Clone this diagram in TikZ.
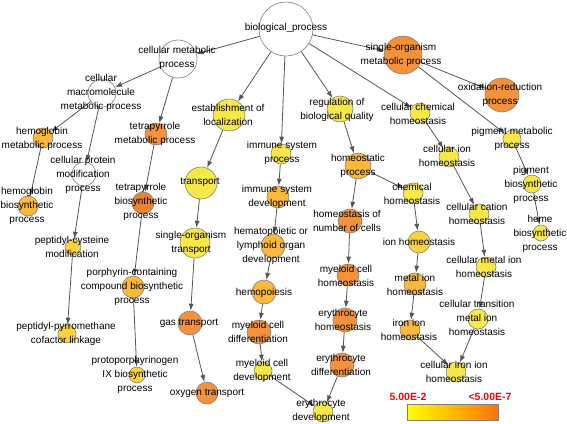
\documentclass[tikz,border=0pt]{standalone}
\usepackage{fontspec}
\setmainfont{Liberation Sans}
\usetikzlibrary{arrows.meta}
\definecolor{yel}{HTML}{F7E84A}
\definecolor{yelor}{HTML}{FAD43C}
\definecolor{ltor}{HTML}{FAB83C}
\definecolor{orng}{HTML}{F3923A}
\definecolor{dkor}{HTML}{EE8232}
\definecolor{edgegray}{HTML}{555555}
\begin{document}
\begin{tikzpicture}[x=1pt, y=-1pt,
        go/.style={circle, draw=gray, line width=0.6pt, inner sep=0pt},
        link/.style={draw=edgegray, line width=0.8pt, -{Latex[length=7pt, width=5pt]}},
        txt/.style={align=center, inner sep=0pt, font=\fontsize{10}{14}\selectfont}]
        \useasboundingbox (0, 0) rectangle (567, 423);

        \node[go, fill=white, minimum size=54pt] (0) at (286, 29) {};
        \node[go, fill=white, minimum size=38pt] (1) at (178, 59) {};
        \node[go, fill=orng, minimum size=38pt] (2) at (403, 55) {};
        \node[go, fill=orng, minimum size=34pt] (3) at (502, 95) {};
        \node[go, fill=white, minimum size=28pt] (4) at (102, 93) {};
        \node[go, fill=ltor, minimum size=20pt] (5) at (43, 138) {};
        \node[go, fill=orng, minimum size=22pt] (6) at (156, 134) {};
        \node[go, fill=yel, minimum size=32pt] (7) at (229, 115) {};
        \node[go, fill=yel, minimum size=26pt] (8) at (340, 109) {};
        \node[go, fill=yel, minimum size=20pt] (9) at (420, 113) {};
        \node[go, fill=yel, minimum size=18pt] (10) at (512, 139) {};
        \node[go, fill=yel, minimum size=20pt] (11) at (281, 154) {};
        \node[go, fill=yel, minimum size=32pt] (12) at (201, 183) {};
        \node[go, fill=ltor, minimum size=26pt] (13) at (358, 166) {};
        \node[go, fill=yel, minimum size=20pt] (14) at (449, 157) {};
        \node[go, fill=white, minimum size=24pt] (15) at (84, 174) {};
        \node[go, fill=ltor, minimum size=20pt] (16) at (28, 206) {};
        \node[go, fill=dkor, minimum size=22pt] (17) at (143, 203) {};
        \node[go, fill=yel, minimum size=30pt] (18) at (195, 243) {};
        \node[go, fill=ltor, minimum size=22pt] (19) at (278, 197) {};
        \node[go, fill=ltor, minimum size=24pt] (20) at (273, 246) {};
        \node[go, fill=orng, minimum size=24pt] (21) at (350, 221) {};
        \node[go, fill=yel, minimum size=20pt] (22) at (413, 193) {};
        \node[go, fill=yel, minimum size=20pt] (23) at (479, 214) {};
        \node[go, fill=yel, minimum size=18pt] (24) at (532, 184) {};
        \node[go, fill=yel, minimum size=16pt] (25) at (541, 233) {};
        \node[go, fill=yelor, minimum size=22pt] (26) at (419, 242) {};
        \node[go, fill=yelor, minimum size=16pt] (27) at (73, 247) {};
        \node[go, fill=orng, minimum size=22pt] (28) at (348, 275) {};
        \node[go, fill=yel, minimum size=20pt] (29) at (486, 267) {};
        \node[go, fill=ltor, minimum size=22pt] (30) at (415, 284) {};
        \node[go, fill=ltor, minimum size=22pt] (31) at (133, 287) {};
        \node[go, fill=ltor, minimum size=24pt] (32) at (264, 292) {};
        \node[go, fill=orng, minimum size=24pt] (33) at (190, 323) {};
        \node[go, fill=orng, minimum size=24pt] (34) at (345, 320) {};
        \node[go, fill=orng, minimum size=24pt] (35) at (259, 332) {};
        \node[go, fill=yel, minimum size=20pt] (36) at (478, 319) {};
        \node[go, fill=ltor, minimum size=20pt] (37) at (410, 330) {};
        \node[go, fill=yelor, minimum size=18pt] (38) at (67, 334) {};
        \node[go, fill=yelor, minimum size=16pt] (39) at (137, 375) {};
        \node[go, fill=yel, minimum size=18pt] (40) at (263, 371) {};
        \node[go, fill=orng, minimum size=24pt] (41) at (342, 365) {};
        \node[go, fill=orng, minimum size=22pt] (42) at (207, 393) {};
        \node[go, fill=yel, minimum size=20pt] (43) at (323, 412) {};
        \node[go, fill=yel, minimum size=20pt] (44) at (456, 372) {};

        \draw[link] (0) -- (1);
        \draw[link] (0) -- (2);
        \draw[link] (0) -- (7);
        \draw[link] (0) -- (11);
        \draw[link] (0) -- (8);
        \draw[link] (0) -- (9);
        \draw[link] (2) -- (3);
        \draw[link] (2) -- (10);
        \draw[link] (1) -- (4);
        \draw[link] (1) -- (6);
        \draw[link] (4) -- (5);
        \draw[link] (4) -- (15);
        \draw[link] (5) -- (16);
        \draw[link] (6) -- (17);
        \draw[link] (17) -- (31);
        \draw[link] (31) -- (39);
        \draw[link] (15) -- (27);
        \draw[link] (27) -- (38);
        \draw[link] (7) -- (12);
        \draw[link] (12) -- (18);
        \draw[link] (18) -- (33);
        \draw[link] (33) -- (42);
        \draw[link] (11) -- (19);
        \draw[link] (19) -- (20);
        \draw[link] (20) -- (32);
        \draw[link] (32) -- (35);
        \draw[link] (35) -- (40);
        \draw[link] (40) -- (43);
        \draw[link] (8) -- (13);
        \draw[link] (13) -- (21);
        \draw[link] (13) -- (22);
        \draw[link] (21) -- (28);
        \draw[link] (28) -- (34);
        \draw[link] (34) -- (41);
        \draw[link] (41) -- (43);
        \draw[link] (22) -- (26);
        \draw[link] (26) -- (30);
        \draw[link] (30) -- (37);
        \draw[link] (37) -- (44);
        \draw[link] (9) -- (14);
        \draw[link] (14) -- (23);
        \draw[link] (23) -- (29);
        \draw[link] (29) -- (36);
        \draw[link] (36) -- (44);
        \draw[link] (10) -- (24);
        \draw[link] (24) -- (25);

        \node[txt] (l0) at (286, 28) {biological\_process};
        \node[txt] (l1) at (177, 58) {cellular metabolic\\process};
        \node[txt] (l2) at (401, 55) {single-organism\\metabolic process};
        \node[txt] (l3) at (500, 95) {oxidation-reduction\\process};
        \node[txt] (l4) at (101, 93) {cellular\\macromolecule\\metabolic process};
        \node[txt] (l5) at (42, 139) {hemoglobin\\metabolic process};
        \node[txt] (l6) at (155, 134) {tetrapyrrole\\metabolic process};
        \node[txt] (l7) at (228, 115) {establishment of\\localization};
        \node[txt] (l8) at (337, 110) {regulation of\\biological quality};
        \node[txt] (l9) at (418, 114) {cellular chemical\\homeostasis};
        \node[txt] (l10) at (512, 139) {pigment metabolic\\process};
        \node[txt] (l11) at (282, 153) {immune system\\process};
        \node[txt] (l12) at (200, 182) {transport};
        \node[txt] (l13) at (358, 166) {homeostatic\\process};
        \node[txt] (l14) at (447, 156) {cellular ion\\homeostasis};
        \node[txt] (l15) at (83, 175) {cellular protein\\modification\\process};
        \node[txt] (l16) at (27, 206) {hemoglobin\\biosynthetic\\process};
        \node[txt] (l17) at (141, 202) {tetrapyrrole\\biosynthetic\\process};
        \node[txt] (l18) at (191, 243) {single-organism\\transport};
        \node[txt] (l19) at (277, 197) {immune system\\development};
        \node[txt] (l20) at (271, 246) {hematopoietic or\\lymphoid organ\\development};
        \node[txt] (l21) at (347, 221) {homeostasis of\\number of cells};
        \node[txt] (l22) at (412, 194) {chemical\\homeostasis};
        \node[txt] (l23) at (477, 214) {cellular cation\\homeostasis};
        \node[txt] (l24) at (531, 185) {pigment\\biosynthetic\\process};
        \node[txt] (l25) at (540, 234) {heme\\biosynthetic\\process};
        \node[txt] (l26) at (419, 242) {ion homeostasis};
        \node[txt] (l27) at (72, 247) {peptidyl-cysteine\\modification};
        \node[txt] (l28) at (346, 276) {myeloid cell\\homeostasis};
        \node[txt] (l29) at (484, 267) {cellular metal ion\\homeostasis};
        \node[txt] (l30) at (415, 285) {metal ion\\homeostasis};
        \node[txt] (l31) at (132, 287) {porphyrin-containing\\compound biosynthetic\\process};
        \node[txt] (l32) at (264, 293) {hemopoiesis};
        \node[txt] (l33) at (189, 323) {gas transport};
        \node[txt] (l34) at (343, 320) {erythrocyte\\homeostasis};
        \node[txt] (l35) at (258, 332) {myeloid cell\\differentiation};
        \node[txt] (l36) at (477, 318) {cellular transition\\metal ion\\homeostasis};
        \node[txt] (l37) at (409, 330) {iron ion\\homeostasis};
        \node[txt] (l38) at (66, 334) {peptidyl-pyrromethane\\cofactor linkage};
        \node[txt] (l39) at (135, 375) {protoporphyrinogen\\IX biosynthetic\\process};
        \node[txt] (l40) at (262, 371) {myeloid cell\\development};
        \node[txt] (l41) at (341, 365) {erythrocyte\\differentiation};
        \node[txt] (l42) at (207, 393) {oxygen transport};
        \node[txt] (l43) at (321, 411) {erythrocyte\\development};
        \node[txt] (l44) at (454, 372) {cellular iron ion\\homeostasis};

        % legend
        \shade[left color=yellow, right color=orange!90!red] (407, 404) rectangle (498, 420);
        \draw[gray, line width=0.6pt] (407, 404) rectangle (498, 420);
        \node[txt, text=red, font=\fontsize{10.5}{12}\selectfont\bfseries] (lo) at (408, 397) {5.00E-2};
        \node[txt, text=red, font=\fontsize{10.5}{12}\selectfont\bfseries] (hi) at (490, 397) {<5.00E-7};
    \end{tikzpicture}
\end{document}
